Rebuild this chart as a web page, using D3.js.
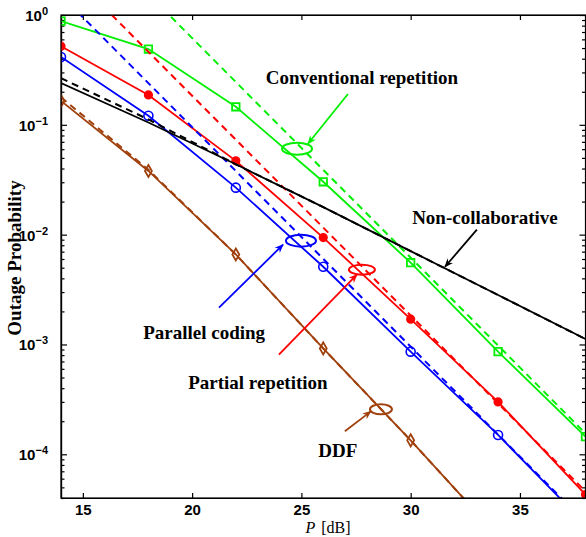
<!DOCTYPE html>
<html>
  <head>
    <title>Outage Probability</title>
    <style>
      body { margin: 0; background: #fff; }
      .axis text { font-family: "Liberation Sans", Arial, sans-serif; font-weight: bold; font-size: 15px; fill: #000; }
      .axis path, .axis line { stroke: #000; stroke-width: 1.2; }
      .note { font-family: "Liberation Serif", "Times New Roman", serif; font-weight: bold; font-size: 19px; }
    </style>
  </head>

  <body>
    <div id="chart"></div>

    <script src="https://cdn.jsdelivr.net/npm/d3@7"></script>

<script>

  // SNR grid where the simulated curves were sampled
  var snr = [14, 18, 22, 26, 30, 34, 38];

  var conventional = [0.88, 0.49, 0.146, 0.0303, 0.00556, 8.6e-4, 1.45e-4];
  var partial      = [0.52, 0.187, 0.047, 0.0094, 0.0017, 3.0e-4, 4.3e-5];
  var parallel     = [0.415, 0.121, 0.0268, 0.0051, 8.6e-4, 1.5e-4, 2.3e-5];
  var nonCollab    = [0.24, 0.105, 0.0437, 0.0178, 0.00708, 0.00282, 0.00112];
  var ddf          = [0.165, 0.038, 0.0066, 9.2e-4, 1.34e-4, 1.8e-5, 2.5e-6];

  // high-SNR approximations (dashed)
  var approxEnds = [14, 38];
  var conventionalApprox = [9.77, 1.55e-4];
  var partialApprox      = [2.92, 4.6e-5];
  var parallelApprox     = [1.51, 2.4e-5];
  var nonCollabApprox    = [0.266, 0.112, 0.0437, 0.0178, 0.00708, 0.00282, 0.00112];
  var ddfApprox          = [0.178, 0.039, 0.0066, 9.2e-4, 1.34e-4, 1.8e-5, 2.5e-6];

  var xTicks = [15, 20, 25, 30, 35];
  var yExponents = [0, -1, -2, -3, -4];

  // annotations: label, text position, arrow start/end, ellipse centre
  var notes = [
    {name: "Conventional repetition", color: "#00ee00", text: [27.77, 0.236], from: [27.13, 0.191], to: [25.3, 0.0672], ring: [24.8, 0.0605], rx: 15, ry: 6},
    {name: "Non-collaborative", color: "#000", text: [33.4, 0.0126], from: [33.03, 0.0111], to: [31.57, 0.0051], ring: null},
    {name: "Parallel coding", color: "#0000ff", text: [20.55, 0.00111], from: [21.23, 0.00217], to: [24.16, 0.0081], ring: [24.98, 0.00881], rx: 15, ry: 6},
    {name: "Partial repetition", color: "#ff0000", text: [23.01, 3.9e-4], from: [23.97, 8.1e-4], to: [27.54, 0.00433], ring: [27.77, 0.0048], rx: 13, ry: 5},
    {name: "DDF", color: "#a0410d", text: [26.67, 9.4e-5], from: [26.99, 1.62e-4], to: [28.18, 2.46e-4], ring: [28.64, 2.57e-4], rx: 11, ry: 5}
  ];

  var series = [
    {values: conventional, approxX: approxEnds, approx: conventionalApprox, color: "#00ee00", marker: "square"},
    {values: partial, approxX: approxEnds, approx: partialApprox, color: "#ff0000", marker: "dot"},
    {values: parallel, approxX: approxEnds, approx: parallelApprox, color: "#0000ff", marker: "circle"},
    {values: nonCollab, approxX: snr, approx: nonCollabApprox, color: "#000000", marker: null},
    {values: ddf, approxX: snr, approx: ddfApprox, color: "#a0410d", marker: "diamond"}
  ];

  var margin = {top: 15, right: 0.5, bottom: 39, left: 61},
    width = 586 - margin.right - margin.left,
    height = 537 - margin.top - margin.bottom;

  var svg = d3.select('#chart')
    .append('svg')
    .attr("width", 586)
    .attr("height", 537);

  var g = svg.append("g")
    .attr("transform", "translate(" + margin.left + "," + margin.top + ")");

  var x = d3.scaleLinear()
    .range([0, width])
    .domain([14, 38]);

  var y = d3.scaleLog()
    .range([height, 0])
    .domain([4e-5, 1]);

  svg.append("defs").append("clipPath")
    .attr("id", "plot")
  .append("rect")
    .attr("width", width)
    .attr("height", height);

  var defs = svg.select("defs");
  notes.forEach(function(n, i) {
    defs.append("marker")
      .attr("id", "arrow" + i)
      .attr("viewBox", "0 0 10 10")
      .attr("refX", 9)
      .attr("refY", 5)
      .attr("markerWidth", 9)
      .attr("markerHeight", 9)
      .attr("markerUnits", "userSpaceOnUse")
      .attr("orient", "auto")
    .append("path")
      .attr("d", "M0,1 L10,5 L0,9 L3,5 Z")
      .style("fill", n.color);
  });

  // minor ticks for the log axis
  var minor = [];
  yExponents.concat([-5]).forEach(function(e) {
    for (var k = 2; k <= 9; k++) {
      var v = k * Math.pow(10, e);
      if (v >= 4e-5 && v < 1) minor.push(v);
    }
  });
  var major = yExponents.map(function(e) { return Math.pow(10, e); });

  g.append("g")
    .attr("class", "axis")
    .call(d3.axisLeft(y).tickValues(minor).tickSize(-3.5).tickSizeOuter(0).tickFormat(""));
  g.append("g")
    .attr("class", "axis")
    .attr("transform", "translate(" + width + ",0)")
    .call(d3.axisRight(y).tickValues(minor).tickSize(-3.5).tickSizeOuter(0).tickFormat(""));
  g.append("g")
    .attr("class", "axis")
    .attr("transform", "translate(" + width + ",0)")
    .call(d3.axisRight(y).tickValues(major).tickSize(-6).tickSizeOuter(0).tickFormat(""));

  var yAxis = g.append("g")
    .attr("class", "axis axis--y")
    .call(d3.axisLeft(y).tickValues(major).tickSize(-6).tickSizeOuter(0).tickFormat(""));

  yAxis.selectAll(".tick").append("text")
    .attr("x", -13)
    .attr("dy", "0.36em")
    .attr("text-anchor", "end")
    .text("10")
  .append("tspan")
    .attr("dy", "-0.55em")
    .style("font-size", "11px")
    .text(function(d) { var e = Math.round(Math.log10(d)); return e === 0 ? "0" : "\u2212" + (-e); });

  g.append("g")
    .attr("class", "axis axis--x")
    .attr("transform", "translate(0," + height + ")")
    .call(d3.axisBottom(x).tickValues(xTicks).tickSize(-5).tickSizeOuter(0).tickPadding(6));

  g.append("g")
    .attr("class", "axis")
    .call(d3.axisTop(x).tickValues(xTicks).tickSize(-5).tickSizeOuter(0).tickFormat(""));

  var line = d3.line()
    .x(function(d) { return x(d[0]); })
    .y(function(d) { return y(d[1]); });

  var plot = g.append("g").attr("clip-path", "url(#plot)");

  series.forEach(function(s) {
    plot.append("path")
      .datum(d3.zip(s.approxX, s.approx))
      .attr("d", line)
      .style("fill", "none")
      .style("stroke", s.color)
      .style("stroke-width", 2)
      .style("stroke-dasharray", "7,5");

    plot.append("path")
      .datum(d3.zip(snr, s.values))
      .attr("d", line)
      .style("fill", "none")
      .style("stroke", s.color)
      .style("stroke-width", 1.8);

    if (!s.marker) return;
    var pts = plot.selectAll(null)
      .data(d3.zip(snr, s.values))
      .enter();
    if (s.marker === "square" || s.marker === "diamond") {
      pts.append("path")
        .attr("transform", function(d) { return "translate(" + x(d[0]) + "," + y(d[1]) + ")"; })
        .attr("d", d3.symbol().type(s.marker === "square" ? d3.symbolSquare : d3.symbolDiamond).size(s.marker === "square" ? 56 : 42))
        .style("fill", "none")
        .style("stroke", s.color)
        .style("stroke-width", 1.8);
    } else {
      pts.append("circle")
        .attr("cx", function(d) { return x(d[0]); })
        .attr("cy", function(d) { return y(d[1]); })
        .attr("r", s.marker === "dot" ? 3.8 : 4.5)
        .style("fill", s.marker === "dot" ? s.color : "none")
        .style("stroke", s.color)
        .style("stroke-width", 1.6);
    }
  });

  // frame lines drawn last so they sit over the curves
  g.append("rect")
    .attr("width", width)
    .attr("height", height)
    .style("fill", "none")
    .style("stroke", "#000")
    .style("stroke-width", 1.2);

  notes.forEach(function(n, i) {
    if (n.ring) {
      g.append("ellipse")
        .attr("cx", x(n.ring[0]))
        .attr("cy", y(n.ring[1]))
        .attr("rx", n.rx)
        .attr("ry", n.ry)
        .style("fill", "none")
        .style("stroke", n.color)
        .style("stroke-width", 2);
    }
    g.append("line")
      .attr("x1", x(n.from[0]))
      .attr("y1", y(n.from[1]))
      .attr("x2", x(n.to[0]))
      .attr("y2", y(n.to[1]))
      .style("stroke", n.color)
      .style("stroke-width", 1.8)
      .attr("marker-end", "url(#arrow" + i + ")");
    g.append("text")
      .attr("class", "note")
      .attr("x", x(n.text[0]))
      .attr("y", y(n.text[1]))
      .attr("text-anchor", "middle")
      .text(n.name);
  });

  svg.append("text")
    .attr("transform", "translate(21," + (margin.top + 243) + ") rotate(-90)")
    .attr("text-anchor", "middle")
    .style("font-family", "'Liberation Serif', 'Times New Roman', serif")
    .style("font-weight", "bold")
    .style("font-size", "19px")
    .text("Outage Probability");

  var xl = svg.append("text")
    .attr("x", 328)
    .attr("y", 533)
    .attr("text-anchor", "middle")
    .style("font-family", "'Liberation Serif', 'Times New Roman', serif")
    .style("font-size", "16px");
  xl.append("tspan").style("font-style", "italic").text("P");
  xl.append("tspan").attr("dx", 2).text(" [dB]");

</script>
  </body>
</html>
